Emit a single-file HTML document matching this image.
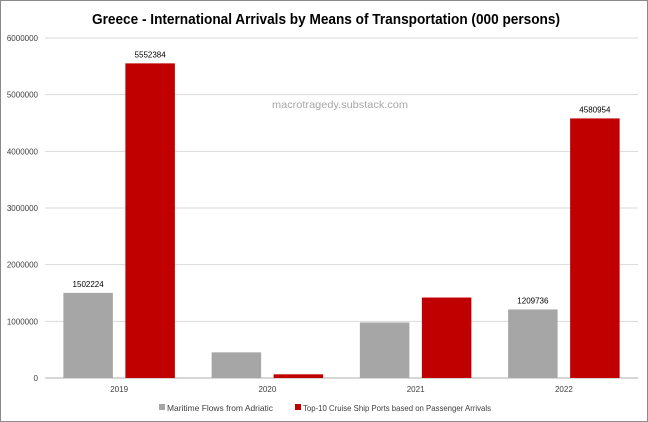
<!DOCTYPE html>
<html><head><meta charset="utf-8"><style>
body{margin:0;background:#fff;}
svg{display:block;font-family:"Liberation Sans",sans-serif;}
</style></head><body>
<svg id="c" width="648" height="422">
<rect x="0.5" y="0.5" width="647" height="421" fill="#fff" stroke="#8a8a8a"/>
<text x="326" y="24" text-anchor="middle" font-size="14.5" font-weight="bold" fill="#000" textLength="468" lengthAdjust="spacingAndGlyphs">Greece - International Arrivals by Means of Transportation (000 persons)</text>
<text x="340" y="108" text-anchor="middle" font-size="10.5" fill="#a6a6a6" textLength="136" lengthAdjust="spacingAndGlyphs">macrotragedy.substack.com</text>
<g id="grid"></g><g id="bars"></g><g id="labels"></g>
<g>
<rect x="159" y="404" width="6" height="6" fill="#a6a6a6"/>
<text x="167" y="411" font-size="8.5" fill="#404040" textLength="106" lengthAdjust="spacingAndGlyphs">Maritime Flows from Adriatic</text>
<rect x="295" y="404" width="6" height="6" fill="#c00000"/>
<text x="303" y="411" font-size="8.5" fill="#404040" textLength="188" lengthAdjust="spacingAndGlyphs">Top-10 Cruise Ship Ports based on Passenger Arrivals</text>
</g>
</svg>
<script>
const categories=["2019","2020","2021","2022"];
const maritime=[1502224,453000,980000,1209736];
const cruise=[5552384,65000,1420000,4580954];
const maritimeLabels=["1502224","","","1209736"];
const cruiseLabels=["5552384","","","4580954"];
const yTicks=[0,1000000,2000000,3000000,4000000,5000000,6000000];
const NS="http://www.w3.org/2000/svg";
const X0=45,X1=638,Y0=378,Y1=38,YMAX=6000000;
const y=v=>Y0-(v/YMAX)*(Y0-Y1);
const bw=(X1-X0)/categories.length;
const xc=i=>X0+bw*(i+0.5);
function mk(t,a,p){const e=document.createElementNS(NS,t);for(const k in a)e.setAttribute(k,a[k]);p.appendChild(e);return e;}
const grid=document.getElementById('grid'),bars=document.getElementById('bars'),labels=document.getElementById('labels');
yTicks.forEach(v=>{
 const l=mk('line',{x1:X0,x2:X1,y1:y(v),y2:y(v),stroke:v===0?'#bfbfbf':'#d9d9d9','stroke-width':v===0?1.2:1},grid);
 
 
 const t=mk('text',{x:38,y:y(v)+3,'text-anchor':'end','font-size':'8',fill:'#404040'},grid);
 t.textContent=String(v);
 
 
});
const W=49.5,G=12.5;
categories.forEach((c,i)=>{
 const gx=xc(i)-G/2-W, rx=xc(i)+G/2;
 const b1=mk('rect',{x:gx,y:y(maritime[i]),width:W,height:Y0-y(maritime[i]),fill:'#a6a6a6'},bars);
 
 
 const b2=mk('rect',{x:rx,y:y(cruise[i]),width:W,height:Y0-y(cruise[i]),fill:'#c00000'},bars);
 
 
 if(maritimeLabels[i]){const t=mk('text',{x:gx+W/2,y:y(maritime[i])-6,'text-anchor':'middle','font-size':'8',fill:'#000'},labels);t.textContent=maritimeLabels[i];
 
 }
 if(cruiseLabels[i]){const t=mk('text',{x:rx+W/2,y:y(cruise[i])-6,'text-anchor':'middle','font-size':'8',fill:'#000'},labels);t.textContent=cruiseLabels[i];
 
 }
 const t=mk('text',{x:xc(i),y:392,'text-anchor':'middle','font-size':'8',fill:'#404040'},labels);
 t.textContent=c;
 
 
});
</script>
</body></html>
